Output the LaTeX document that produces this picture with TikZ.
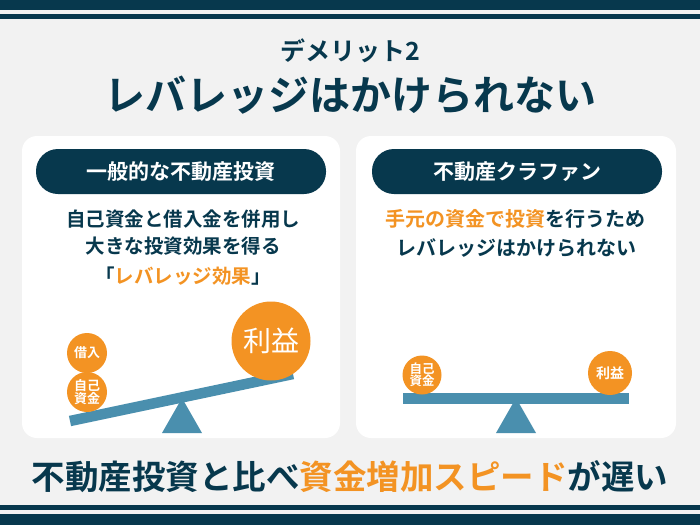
\documentclass[tikz,border=0pt]{standalone}
\usepackage{fontspec}
\newfontfamily\jp{Noto Sans CJK JP}
\newfontfamily\jpb{Noto Sans CJK JP Bold}
\definecolor{navy}{HTML}{07384D}
\definecolor{orng}{HTML}{F39323}
\definecolor{steel}{HTML}{4A8FAE}
\definecolor{bg}{HTML}{F2F2F2}
\begin{document}
\begin{tikzpicture}[x=1pt,y=-1pt,
  panel/.style={fill=white,rounded corners=15pt},
  pill/.style={fill=navy,rounded corners=22pt},
  head/.style={text=white,font=\jpb\fontsize{21}{21}\selectfont,inner sep=0},
  body/.style={text=navy,font=\jpb\fontsize{19.5}{19.5}\selectfont,inner sep=0},
  ball/.style={circle,fill=orng,text=white,inner sep=0,align=center},
  beam/.style={draw=steel,line width=10.5pt},
  fulcrum/.style={fill=steel}]
\useasboundingbox (0,0) rectangle (700,525);
\fill[bg] (0,0) rectangle (700,525);
% top and bottom bars
\fill[navy] (0,0) rectangle (700,9.5);
\fill[navy] (0,14) rectangle (700,19);
\fill[navy] (0,505) rectangle (700,510);
\fill[navy] (0,514) rectangle (700,525);
% titles
\node[text=navy,font=\jpb\fontsize{25}{25}\selectfont,inner sep=0] (sub) at (350,51) {デメリット2};
\node[text=navy,font=\jpb\fontsize{41}{41}\selectfont,inner sep=0] (title) at (350,95) {レバレッジはかけられない};
% panels
\fill[panel] (22,136) rectangle (340,438);
\fill[panel] (356,136) rectangle (676,438);
\fill[pill] (36,149) rectangle (326,194);
\fill[pill] (372,149) rectangle (662,194);
\node[head] (h1) at (181,171.5) {一般的な不動産投資};
\node[head] (h2) at (517,171.5) {不動産クラファン};
% left body
\node[body] (l1) at (183,219) {自己資金と借入金を併用し};
\node[body] (l2) at (183,246) {大きな投資効果を得る};
\node[body] (l3) at (183,276) {「\textcolor{orng}{レバレッジ効果}」};
% right body
\node[body,font=\jpb\fontsize{20}{20}\selectfont] (r1) at (515,219) {\textcolor{orng}{手元の資金で投資}を行うため};
\node[body,font=\jpb\fontsize{20}{20}\selectfont] (r2) at (516,248) {レバレッジはかけられない};
% left seesaw
\coordinate (lA) at (70,421);
\coordinate (lB) at (293,374);
\fill[fulcrum] (182,398) -- (202,433) -- (162,433) -- cycle;
\draw[beam] (lA) -- (lB);
\node[ball,minimum size=40pt,font=\jpb\fontsize{13}{13}\selectfont] (kari) at (87,353) {借入};
\node[ball,minimum size=40pt,font=\jpb\fontsize{13}{13.5}\selectfont] (jiko1) at (87,392) {自己\\[-1pt]資金};
\node[ball,minimum size=79pt,font=\jp\fontsize{28}{28}\selectfont] (rieki1) at (271,341) {利益};
% right seesaw
\fill[fulcrum] (516,398) -- (536,433) -- (496,433) -- cycle;
\fill[steel] (403,393) rectangle (629,404);
\node[ball,minimum size=39pt,font=\jpb\fontsize{12.5}{13}\selectfont] (jiko2) at (422,375) {自己\\[-1pt]資金};
\node[ball,minimum size=44pt,font=\jpb\fontsize{14}{14}\selectfont] (rieki2) at (610,373) {利益};
% bottom text
\node[text=navy,font=\jpb\fontsize{33.5}{33.5}\selectfont,inner sep=0] (foot) at (350,477) {不動産投資と比べ\textcolor{orng}{資金増加スピード}が遅い};
\end{tikzpicture}
\end{document}
